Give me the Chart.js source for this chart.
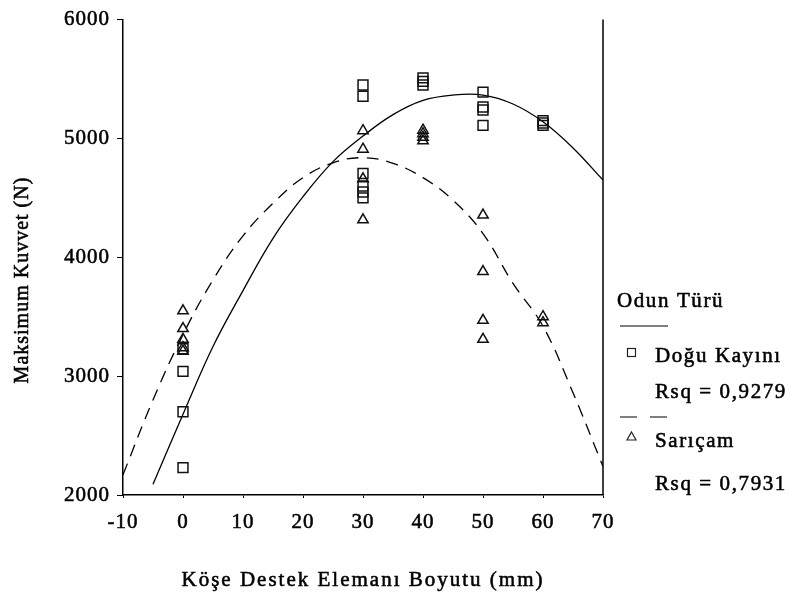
<!DOCTYPE html>
<html>
<head>
<meta charset="utf-8">
<script src="https://cdn.jsdelivr.net/npm/chart.js@4.4.0/dist/chart.umd.min.js"></script>
<style>
  html, body { margin: 0; padding: 0; background: #fff; }
  #wrap { width: 789px; height: 599px; }
</style>
</head>
<body>
<div id="wrap"><canvas id="chart1" width="789" height="599"></canvas></div>
<script>
// Ölçülen noktalar (mm, N)
const kayinX = [0, 0, 0, 0, 30, 30, 30, 30, 30, 30, 40, 40, 40, 50, 50, 50, 50, 60, 60, 60];
const kayinY = [3230, 3040, 2700, 2230, 5450, 5355, 4705, 4600, 4550, 4500, 5510, 5480, 5450, 5390, 5265, 5240, 5110, 5150, 5130, 5110];
const saricamX = [0, 0, 0, 0, 0, 30, 30, 30, 30, 40, 40, 40, 40, 50, 50, 50, 50, 60, 60];
const saricamY = [3550, 3400, 3310, 3240, 3210, 5065, 4910, 4660, 4315, 5070, 5040, 5010, 4980, 4355, 3880, 3470, 3310, 3500, 3450];

// Eğri değerleri
const kayinFitX = [-5, 0, 5, 10, 15, 20, 25, 30, 35, 40, 45, 50, 55, 60, 65, 70];
const kayinFitY = [2090, 2680, 3250, 3720, 4160, 4510, 4805, 5020, 5200, 5320, 5365, 5365, 5290, 5140, 4920, 4650];
const saricamFitX = [-10, -5, 0, 5, 10, 15, 20, 25, 30, 35, 40, 45, 50, 55, 60, 65, 70];
const saricamFitY = [2170, 2800, 3350, 3810, 4180, 4455, 4670, 4795, 4838, 4790, 4670, 4480, 4200, 3780, 3420, 2860, 2240];

// Eksen etiketleri
const xTicks = [-10, 0, 10, 20, 30, 40, 50, 60, 70];
const yTicks = [2000, 3000, 4000, 5000, 6000];

const toPts = (xs, ys) => xs.map((x, i) => ({ x: x, y: ys[i] }));
const serif = '"Liberation Serif", "Times New Roman", serif';

// kalınca yazı: dolgu + ince kontur
function yaz(ctx, txt, x, y) {
  ctx.fillText(txt, x, y);
  ctx.strokeText(txt, x, y);
}

// Lejant ve eksen başlıkları
const ekler = {
  id: 'ekler',
  beforeLayout(chart) { chart.ctx.letterSpacing = '1px'; },
  beforeDraw(chart) { chart.ctx.letterSpacing = '1px'; },
  afterDraw(chart) {
    const { ctx, chartArea: a } = chart;
    ctx.save();
    ctx.strokeStyle = '#000';
    ctx.lineWidth = 1.5;
    ctx.beginPath();
    ctx.moveTo(a.right, a.top);
    ctx.lineTo(a.right, a.bottom);
    ctx.stroke();

    ctx.fillStyle = '#000';
    ctx.textBaseline = 'middle';
    ctx.lineWidth = 0.55;

    // y başlığı
    ctx.font = '20px ' + serif;
    ctx.letterSpacing = '1px';
    ctx.save();
    ctx.translate(23, 280);
    ctx.rotate(-Math.PI / 2);
    ctx.textAlign = 'center';
    yaz(ctx, 'Maksimum Kuvvet (N)', 0, 0);
    ctx.restore();

    // x başlığı
    ctx.font = '21px ' + serif;
    ctx.letterSpacing = '2px';
    ctx.textAlign = 'center';
    yaz(ctx, 'Köşe Destek Elemanı Boyutu (mm)', 363, 580);

    // lejant
    ctx.textAlign = 'left';
    ctx.letterSpacing = '1.6px';
    yaz(ctx, 'Odun Türü', 617, 301);
    yaz(ctx, 'Doğu Kayını', 655, 356);
    yaz(ctx, 'Rsq = 0,9279', 655, 392);
    yaz(ctx, 'Sarıçam', 655, 441);
    yaz(ctx, 'Rsq = 0,7931', 655, 484);

    ctx.lineWidth = 1.2;
    ctx.beginPath();
    ctx.moveTo(620, 326); ctx.lineTo(668, 326);
    ctx.moveTo(620, 417); ctx.lineTo(637, 417);
    ctx.moveTo(650, 417); ctx.lineTo(667, 417);
    ctx.stroke();

    ctx.strokeStyle = '#222';
    ctx.strokeRect(627.5, 348.5, 8, 8);
    ctx.beginPath();
    ctx.moveTo(631.5, 432); ctx.lineTo(636, 440); ctx.lineTo(627, 440); ctx.closePath();
    ctx.stroke();
    ctx.restore();
  }
};

const tickFont = { family: serif, size: 21 };

new Chart(document.getElementById('chart1').getContext('2d'), {
  type: 'scatter',
  data: {
    datasets: [
      {
        label: 'Doğu Kayını',
        data: toPts(kayinX, kayinY),
        pointStyle: 'rect',
        pointRadius: 7,
        borderColor: '#111',
        backgroundColor: 'rgba(0,0,0,0)',
        borderWidth: 1.5
      },
      {
        label: 'Sarıçam',
        data: toPts(saricamX, saricamY),
        pointStyle: 'triangle',
        pointRadius: 6,
        borderColor: '#111',
        backgroundColor: 'rgba(0,0,0,0)',
        borderWidth: 1.5
      },
      {
        label: 'Doğu Kayını eğri',
        data: toPts(kayinFitX, kayinFitY),
        showLine: true,
        pointRadius: 0,
        borderColor: '#000',
        borderWidth: 1.3,
        tension: 0.4
      },
      {
        label: 'Sarıçam eğri',
        data: toPts(saricamFitX, saricamFitY),
        showLine: true,
        pointRadius: 0,
        borderColor: '#000',
        borderWidth: 1.3,
        borderDash: [12, 8],
        tension: 0.4
      }
    ]
  },
  options: {
    responsive: false,
    animation: false,
    layout: { padding: { left: 0, right: 186, top: 19, bottom: 0 } },
    plugins: {
      legend: { display: false },
      tooltip: { enabled: false }
    },
    scales: {
      x: {
        type: 'linear',
        min: -10,
        max: 70,
        afterBuildTicks: s => { s.ticks = xTicks.map(v => ({ value: v })); },
        afterFit: s => { s.height = 104; },
        border: { display: true, color: '#000', width: 1.5 },
        grid: { drawOnChartArea: false, drawTicks: true, tickLength: 3, color: '#000' },
        ticks: { color: '#000', padding: 12, font: tickFont, textStrokeColor: '#000', textStrokeWidth: 0.55, callback: v => String(v) }
      },
      y: {
        type: 'linear',
        min: 2000,
        max: 6000,
        afterBuildTicks: s => { s.ticks = yTicks.map(v => ({ value: v })); },
        afterFit: s => { s.width = 123; },
        border: { display: true, color: '#000', width: 1.5 },
        grid: { drawOnChartArea: false, drawTicks: true, tickLength: 6, color: '#000' },
        ticks: { color: '#000', padding: 7, font: tickFont, textStrokeColor: '#000', textStrokeWidth: 0.55, callback: v => String(v) }
      }
    }
  },
  plugins: [ekler]
});
</script>
</body>
</html>
